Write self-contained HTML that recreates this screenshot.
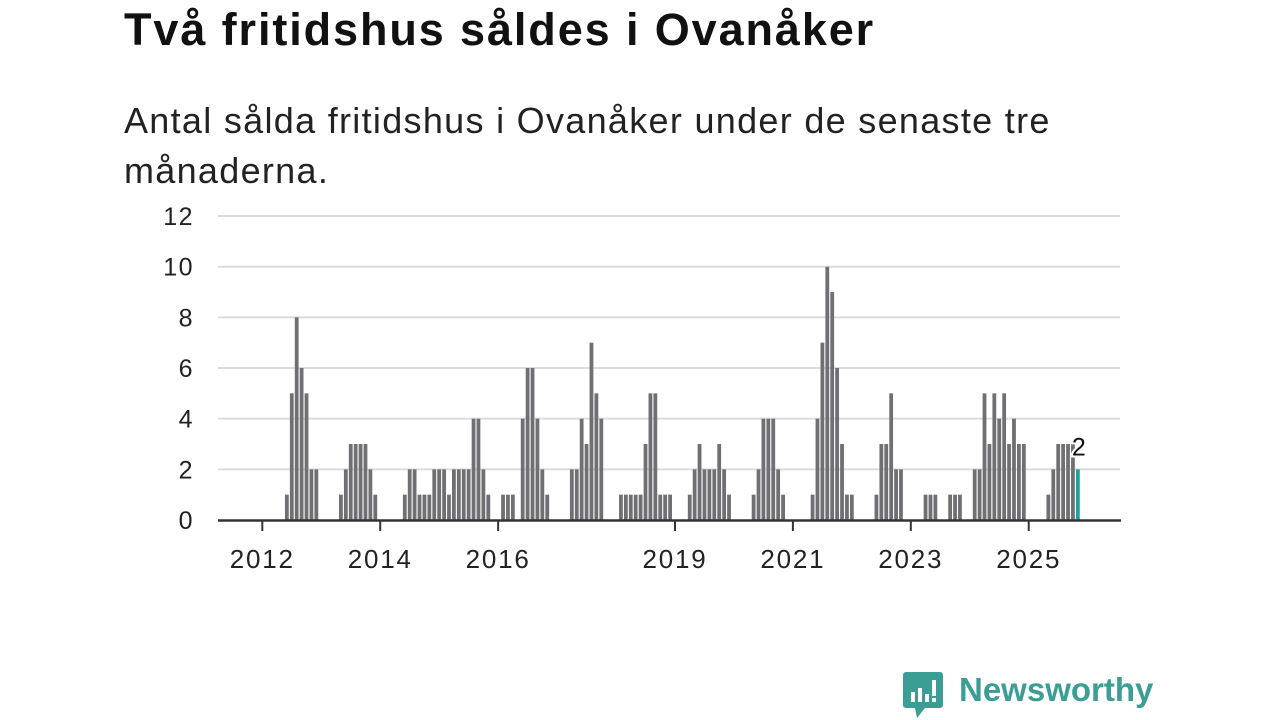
<!DOCTYPE html>
<html><head><meta charset="utf-8"><style>
body{margin:0;background:#fff;width:1280px;height:720px;overflow:hidden;font-family:"Liberation Sans",sans-serif;}
h1{position:absolute;left:124px;top:4px;margin:0;font-size:45px;font-weight:bold;color:#111;letter-spacing:1.9px}
.sub{position:absolute;left:124px;top:96px;width:1000px;font-size:36px;line-height:50px;color:#222;letter-spacing:1.3px}
svg{position:absolute;left:0;top:0}
</style></head><body>
<h1>Två fritidshus såldes i Ovanåker</h1>
<div class="sub">Antal sålda fritidshus i Ovanåker under de senaste tre månaderna.</div>
<svg id="c" width="1280" height="720"></svg>
<script>
// month index since Jan 2012 and values
const months = [5,6,7,8,9,10,11,16,17,18,19,20,21,22,23,29,30,31,32,33,34,35,36,37,38,39,40,41,42,43,44,45,46,49,50,51,53,54,55,56,57,58,63,64,65,66,67,68,69,73,74,75,76,77,78,79,80,81,82,83,87,88,89,90,91,92,93,94,95,100,101,102,103,104,105,106,112,113,114,115,116,117,118,119,120,125,126,127,128,129,130,135,136,137,140,141,142,145,146,147,148,149,150,151,152,153,154,155,160,161,162,163,164,165,166];
const values = [1,5,8,6,5,2,2,1,2,3,3,3,3,2,1,1,2,2,1,1,1,2,2,2,1,2,2,2,2,4,4,2,1,1,1,1,4,6,6,4,2,1,2,2,4,3,7,5,4,1,1,1,1,1,3,5,5,1,1,1,1,2,3,2,2,2,3,2,1,1,2,4,4,4,2,1,1,4,7,10,9,6,3,1,1,1,3,3,5,2,2,1,1,1,1,1,1,2,2,5,3,5,4,5,3,4,3,3,1,2,3,3,3,3,2];
const yTicks = [0,2,4,6,8,10,12];
const xTickYears = [2012,2014,2016,2019,2021,2023,2025];
const NS="http://www.w3.org/2000/svg", svg=document.getElementById('c');
const x = i => 262.3 + i*4.913;
const y = v => 520 - v*25.33;
function mk(t,a){const e=document.createElementNS(NS,t);for(const k in a)e.setAttribute(k,a[k]);svg.appendChild(e);return e;}
yTicks.forEach(t=>{
  if(t>0){const g=mk('line',{x1:218,x2:1120,y1:y(t),y2:y(t),stroke:'#dcdcdc','stroke-width':2});
  
  }
  const l=mk('text',{x:194,y:y(t)+9,'text-anchor':'end','font-size':25,'letter-spacing':1.5,fill:'#222','font-family':'Liberation Sans, sans-serif'});
  l.textContent=t;
  
  
});
months.forEach((m,k)=>{
  const last=k===months.length-1;
  const b=mk('rect',{x:x(m)-1.9,y:y(values[k]),width:3.8,height:values[k]*25.33,fill:last?'#1aa39a':'#707074'});
  
  
});
const ax=mk('line',{x1:218,x2:1121,y1:520.5,y2:520.5,stroke:'#333','stroke-width':2.5});


xTickYears.forEach(yr=>{
  const xi=x((yr-2012)*12);
  const t=mk('line',{x1:xi,x2:xi,y1:520,y2:531,stroke:'#333','stroke-width':2});
  
  
  const l=mk('text',{x:xi,y:568,'text-anchor':'middle','font-size':26,'letter-spacing':1.8,fill:'#222','font-family':'Liberation Sans, sans-serif'});
  l.textContent=yr;
  
  
});
const li=months.length-1;
const vl=mk('text',{x:x(months[li])+1,y:y(values[li])-14,'text-anchor':'middle','font-size':25,fill:'#111',stroke:'#fff','stroke-width':4,'paint-order':'stroke','font-family':'Liberation Sans, sans-serif'});
vl.textContent=values[li];


</script>
<div style="position:absolute;left:903px;top:672px;">
  <svg width="40" height="48" viewBox="0 0 40 48" style="position:absolute;left:0;top:0">
    <path d="M3 0H37a3 3 0 0 1 3 3V33a3 3 0 0 1-3 3H22L14 46 12 36H3a3 3 0 0 1-3-3V3a3 3 0 0 1 3-3z" fill="#3a9e94"/>
    <rect x="8" y="20" width="4" height="10" fill="#fff"/><rect x="15" y="16" width="4" height="14" fill="#fff"/>
    <rect x="22" y="22" width="4" height="8" fill="#fff"/><rect x="29" y="8" width="4" height="16" fill="#fff"/><rect x="29" y="26" width="4" height="4" fill="#fff"/>
  </svg>
  <span style="position:absolute;left:56px;top:-1px;font-size:33px;font-weight:bold;color:#3a9e94;white-space:nowrap">Newsworthy</span>
</div>
</body></html>
